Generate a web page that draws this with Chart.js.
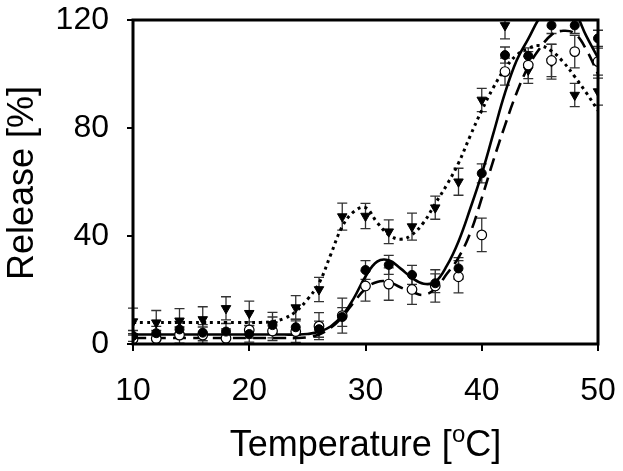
<!DOCTYPE html>
<html>
<head>
<meta charset="utf-8">
<script src="https://cdn.jsdelivr.net/npm/chart.js@4/dist/chart.umd.min.js"></script>
<style>
  html, body { margin: 0; padding: 0; background: #fff; }
  #c { display: block; }
</style>
</head>
<body>
<canvas id="c" width="623" height="471"></canvas>
<script>
// ---- measured data (Temperature in °C, Release in %) ----
const temps = [10,12,14,16,18,20,22,24,26,28,30,32,34,36,38,40,42,44,46,48,50];
const filledVals = [3,4,5.4,4.2,4.6,3.7,7,6.2,5.5,10,27.4,29.3,25.6,22.5,28,63.2,107,106.7,118,118,113.2];
const filledErr  = [2,2.5,3,3,3,3,3,3,3,3.5,3.5,3.5,3.5,3.5,4,3.5,3,3,3,3,3];
const openVals   = [1.8,2,3.3,3.3,2.1,5.2,4.8,4.6,6.6,10.5,21.5,22.2,20.2,21.5,24.9,40.4,100.9,103.3,105,108.3,104.6];
const openErr    = [2,3,3,3,3.5,3,3.5,4,5,6.5,5.6,6,5.5,6,6,6.2,5,5,6,6,5];
const triVals    = [8.3,7.9,8.6,9.1,13.2,11.4,7,13.5,20.2,47.2,47.4,41.6,43.5,50.5,60.1,90.4,118,101.5,104.6,92.2,93.5];
const triErr     = [5,4.5,4.5,4.7,4.3,4.5,4.7,4.4,4.5,5,4.7,4.4,5,4.3,5,4.3,5,5,6.5,4.3,5];

// fitted curves, one sample per degree
const fitTemps = [10,11,12,13,14,15,16,17,18,19,20,21,22,23,24,25,26,27,28,29,30,31,32,33,34,35,36,37,38,39,40,41,42,43,44,45,46,47,48,49,50];
const fitSolid  = [3.5,3.5,3.5,3.5,3.5,3.5,3.5,3.5,3.5,3.5,3.5,3.5,3.5,3.5,3.5,3.7,4.5,6.5,10.5,17,25,30.5,31,28,24.5,22.3,23,29,38,50,63,78,93,105,113,121,126,127,123,114,106];
const fitDashed = [2.2,2.2,2.2,2.2,2.2,2.2,2.2,2.2,2.2,2.2,2.2,2.2,2.2,2.2,2.2,2.5,3.5,6,10,15.5,20.5,23,23,21,19.3,18.2,20.5,26,32,41,54,68,81,93,102.7,109.5,114.5,116,115,109,100];
const fitDotted = [8,8,8,8,8,8,8,8,8,8,8,8,8.3,9.5,12,16.5,22.5,33,43.5,49,50.5,45,40.5,38.8,40.5,45,52,59,67,77,86.5,95,102,107,109.5,110.5,108.5,104.5,99,93,86.5];

const xTickLabels = [10,20,30,40,50];
const yTickLabels = [0,40,80,120];

const FONT = '"Liberation Sans", Arial, sans-serif';

const pts = (xs, ys) => xs.map((x, i) => ({x, y: ys[i]}));

const errorBars = {
  id: 'errorBars',
  beforeDatasetsDraw(chart) {
    const {ctx, chartArea, scales: {x, y}} = chart;
    ctx.save();
    ctx.beginPath();
    ctx.rect(chartArea.left - 8, chartArea.top, chartArea.right - chartArea.left + 16, chartArea.bottom - chartArea.top);
    ctx.clip();
    ctx.strokeStyle = '#333';
    ctx.lineWidth = 1.3;
    const sets = [[filledVals, filledErr], [openVals, openErr], [triVals, triErr]];
    sets.forEach(([vals, errs]) => {
      temps.forEach((t, i) => {
        const px = x.getPixelForValue(t);
        const top = y.getPixelForValue(vals[i] + errs[i]);
        const bot = y.getPixelForValue(vals[i] - errs[i]);
        ctx.beginPath();
        ctx.moveTo(px, top); ctx.lineTo(px, bot);
        ctx.moveTo(px - 5, top); ctx.lineTo(px + 5, top);
        ctx.moveTo(px - 5, bot); ctx.lineTo(px + 5, bot);
        ctx.stroke();
      });
    });
    ctx.restore();
  },
  afterDraw(chart) {
    const {ctx, chartArea: a} = chart;
    ctx.save();
    ctx.strokeStyle = '#000';
    ctx.lineWidth = 3;
    ctx.strokeRect(a.left, a.top, a.right - a.left, a.bottom - a.top);
    ctx.fillStyle = '#000';
    // y title
    ctx.save();
    ctx.translate(33, (a.top + a.bottom) / 2 + 1);
    ctx.rotate(-Math.PI / 2);
    ctx.font = '36px ' + FONT;
    ctx.textAlign = 'center';
    ctx.textBaseline = 'alphabetic';
    ctx.fillText('Release [%]', 0, 0);
    ctx.restore();
    // x title with superscript o
    const p1 = 'Temperature [', sup = 'o', p2 = 'C]';
    ctx.font = '36px ' + FONT;
    const w1 = ctx.measureText(p1).width, w3 = ctx.measureText(p2).width;
    ctx.font = '24px ' + FONT;
    const w2 = ctx.measureText(sup).width;
    const total = w1 + w2 + w3;
    let sx = (a.left + a.right) / 2 - total / 2;
    const by = 456;
    ctx.textAlign = 'left';
    ctx.textBaseline = 'alphabetic';
    ctx.font = '36px ' + FONT;
    ctx.fillText(p1, sx, by);
    ctx.font = '24px ' + FONT;
    ctx.fillText(sup, sx + w1, by - 14);
    ctx.font = '36px ' + FONT;
    ctx.fillText(p2, sx + w1 + w2, by);
    ctx.restore();
  }
};

new Chart(document.getElementById('c'), {
  type: 'scatter',
  data: {
    datasets: [
      { label: 'filled', data: pts(temps, filledVals), order: 0, showLine: false,
        pointStyle: 'circle', pointRadius: 4.5, backgroundColor: '#000', borderColor: '#000', borderWidth: 1 },
      { label: 'open', data: pts(temps, openVals), order: 0, showLine: false,
        pointStyle: 'circle', pointRadius: 4.8, backgroundColor: '#fff', borderColor: '#000', borderWidth: 1.2 },
      { label: 'triangle', data: pts(temps, triVals), order: 0, showLine: false,
        pointStyle: 'triangle', rotation: 180, pointRadius: 5.5, backgroundColor: '#000', borderColor: '#000', borderWidth: 1 },
      { label: 'fit solid', data: pts(fitTemps, fitSolid), order: 1, showLine: true, pointRadius: 0,
        borderColor: '#000', borderWidth: 2.6, tension: 0.4, fill: false },
      { label: 'fit dashed', data: pts(fitTemps, fitDashed), order: 1, showLine: true, pointRadius: 0,
        borderColor: '#000', borderWidth: 2.6, borderDash: [13, 7], tension: 0.4, fill: false },
      { label: 'fit dotted', data: pts(fitTemps, fitDotted), order: 1, showLine: true, pointRadius: 0,
        borderColor: '#000', borderWidth: 3, borderDash: [3, 4], tension: 0.4, fill: false }
    ]
  },
  options: {
    responsive: false,
    animation: false,
    events: [],
    layout: { padding: { left: 0, right: 25, top: 20, bottom: 0 } },
    plugins: { legend: { display: false }, tooltip: { enabled: false } },
    scales: {
      x: {
        type: 'linear', min: 10, max: 50,
        afterFit: s => { s.height = 127; s.paddingLeft = 0; s.paddingRight = 0; },
        afterBuildTicks: s => { s.ticks = xTickLabels.map(v => ({value: v})); },
        grid: { display: true, drawOnChartArea: false, drawTicks: true, tickLength: 7, color: '#000', lineWidth: 2 },
        border: { display: false },
        ticks: { color: '#000', font: { family: FONT, size: 32 }, padding: 21, maxRotation: 0 }
      },
      y: {
        type: 'linear', min: 0, max: 120,
        afterFit: s => { s.width = 133; s.paddingTop = 0; s.paddingBottom = 0; },
        afterBuildTicks: s => { s.ticks = yTickLabels.map(v => ({value: v})); },
        grid: { display: true, drawOnChartArea: false, drawTicks: true, tickLength: 6, color: '#000', lineWidth: 2 },
        border: { display: false },
        ticks: { color: '#000', font: { family: FONT, size: 32 }, padding: 18 }
      }
    }
  },
  plugins: [errorBars]
});
</script>
</body>
</html>
